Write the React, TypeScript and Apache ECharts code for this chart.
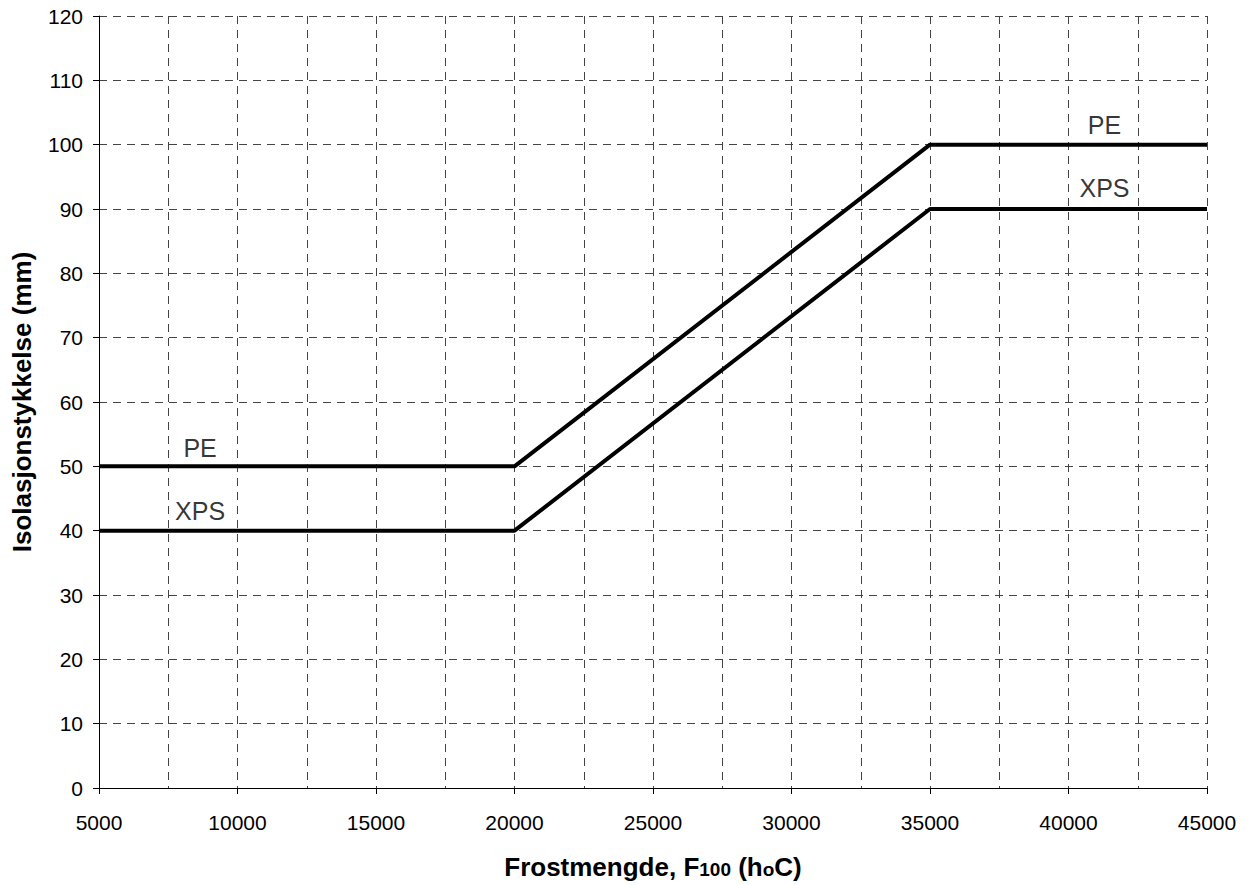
import React, { useEffect, useRef } from "react";
import * as echarts from "echarts";

const xPoints = [5000, 20000, 35000, 45000];
const peValues = [50, 50, 100, 100];
const xpsValues = [40, 40, 90, 90];

const labelTexts = ["PE", "XPS", "PE", "XPS"];
const labelX = [8650, 8650, 41300, 41300];
const labelY = [52.9, 43.1, 103.1, 93.2];

const FONT = "'Liberation Sans', Arial, Helvetica, sans-serif";

export default function App() {
  const ref = useRef<HTMLDivElement>(null);
  useEffect(() => {
    if (!ref.current) return;
    const chart = echarts.init(ref.current, null, { renderer: "svg" });
    const dash = [8, 6];
    const gridColor = "#444";
    chart.setOption({
      animation: false,
      backgroundColor: "#fff",
      textStyle: { fontFamily: FONT, color: "#000" },
      grid: { left: 99, right: 41, top: 16, bottom: 95, containLabel: false },
      xAxis: {
        type: "value",
        min: 5000,
        max: 45000,
        interval: 5000,
        name: "{b|Frostmengde, F}{s|100}{b| (h}{s|o}{b|C)}",
        nameLocation: "middle",
        nameGap: 79,
        nameTextStyle: {
          verticalAlign: "middle",
          rich: {
            b: { fontFamily: FONT, fontSize: 26, fontWeight: "bold", color: "#000", verticalAlign: "bottom" },
            s: { fontFamily: FONT, fontSize: 19, fontWeight: "bold", color: "#000", verticalAlign: "bottom", padding: [0, 0, 1, 0] },
          },
        },
        axisLine: { show: true, lineStyle: { color: "#000", width: 1 } },
        axisTick: { show: true, length: 6, lineStyle: { color: "#000" } },
        axisLabel: {
          fontFamily: FONT,
          fontSize: 21,
          color: "#000",
          margin: 24,
          formatter: (v: number) => String(v),
        },
        splitLine: { show: true, lineStyle: { color: gridColor, width: 1, type: dash } },
        minorTick: { show: false, splitNumber: 2 },
        minorSplitLine: { show: true, lineStyle: { color: gridColor, width: 1, type: dash } },
      },
      yAxis: {
        type: "value",
        min: 0,
        max: 120,
        interval: 10,
        name: "Isolasjonstykkelse (mm)",
        nameLocation: "middle",
        nameGap: 77,
        nameRotate: 90,
        nameTextStyle: { fontFamily: FONT, fontSize: 26, fontWeight: "bold", color: "#000", verticalAlign: "middle" },
        axisLine: { show: true, lineStyle: { color: "#000", width: 1 } },
        axisTick: { show: true, length: 6, lineStyle: { color: "#000" } },
        axisLabel: { fontFamily: FONT, fontSize: 21, color: "#000", margin: 16 },
        splitLine: { show: true, lineStyle: { color: gridColor, width: 1, type: dash } },
      },
      series: [
        {
          name: "PE",
          type: "line",
          data: xPoints.map((x, i) => [x, peValues[i]]),
          symbol: "none",
          lineStyle: { color: "#000", width: 4 },
          z: 5,
        },
        {
          name: "XPS",
          type: "line",
          data: xPoints.map((x, i) => [x, xpsValues[i]]),
          symbol: "none",
          lineStyle: { color: "#000", width: 4 },
          z: 5,
        },
        {
          type: "scatter",
          symbolSize: 0,
          data: labelTexts.map((t, i) => ({ value: [labelX[i], labelY[i]], name: t })),
          label: {
            show: true,
            position: "inside",
            formatter: (p: any) => p.name,
            fontFamily: FONT,
            fontSize: 25,
            color: "#000",
            textBorderWidth: 0,
          },
          emphasis: { disabled: true },
          z: 6,
        },
      ],
    });
    return () => chart.dispose();
  }, []);
  return (
    <div
      ref={ref}
      style={{ position: "absolute", left: 0, top: 0, width: 1248, height: 885, background: "#fff" }}
    />
  );
}
